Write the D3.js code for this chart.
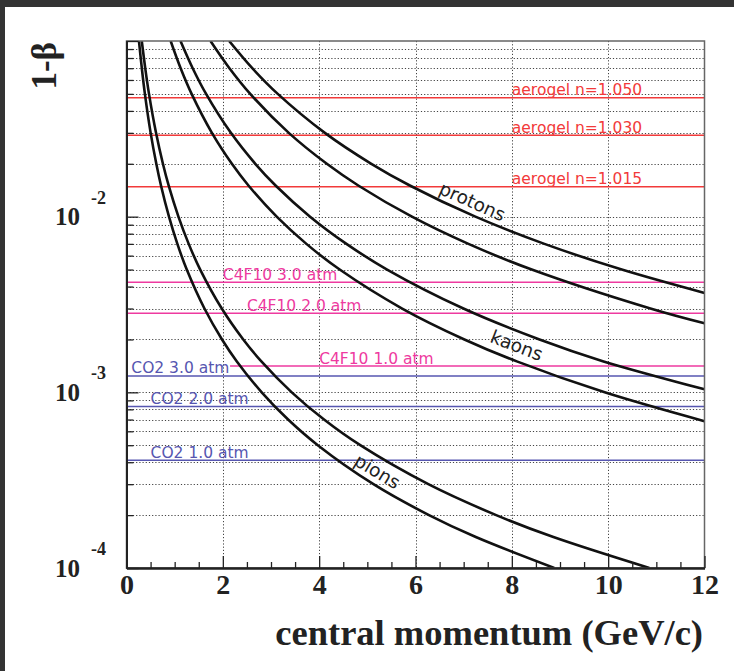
<!DOCTYPE html>
<html>
<head>
<meta charset="utf-8">
<script src="https://cdn.jsdelivr.net/npm/d3@7"></script>
<style>
  body { margin: 0; background: #fff; }
  svg { display: block; }
</style>
</head>
<body>
<script>
// 1-beta versus momentum: two curves per particle
var pionsA = [[0.259, 0.1], [0.318, 0.07], [0.382, 0.05], [0.501, 0.03], [0.619, 0.02],
              [0.717, 0.015], [0.882, 0.01], [1.056, 0.007], [1.251, 0.005], [1.618, 0.003],
              [1.983, 0.002], [2.291, 0.0015], [2.807, 0.001], [3.355, 0.0007], [3.971, 0.0005],
              [5.127, 0.0003], [6.280, 0.0002], [7.252, 0.00015], [8.881, 0.0001]];
var pionsB = [[0.317, 0.1], [0.389, 0.07], [0.467, 0.05], [0.613, 0.03], [0.756, 0.02],
              [0.876, 0.015], [1.078, 0.01], [1.291, 0.007], [1.530, 0.005], [1.978, 0.003],
              [2.424, 0.002], [2.800, 0.0015], [3.431, 0.001], [4.101, 0.0007], [4.853, 0.0005],
              [6.266, 0.0003], [7.675, 0.0002], [8.863, 0.00015], [10.855, 0.0001]];
var kaonsA = [[0.917, 0.1], [1.124, 0.07], [1.352, 0.05], [1.773, 0.03], [2.188, 0.02],
              [2.536, 0.015], [3.118, 0.01], [3.735, 0.007], [4.426, 0.005], [5.723, 0.003],
              [7.015, 0.002], [8.103, 0.0015], [9.928, 0.001], [12, 0.000685]];
var kaonsB = [[1.121, 0.1], [1.374, 0.07], [1.652, 0.05], [2.167, 0.03], [2.674, 0.02],
              [3.100, 0.015], [3.811, 0.01], [4.566, 0.007], [5.410, 0.005], [6.995, 0.003],
              [8.574, 0.002], [9.904, 0.0015], [12, 0.00104]];
var protonsA = [[1.744, 0.1], [2.137, 0.07], [2.569, 0.05], [3.369, 0.03], [4.159, 0.02],
                [4.820, 0.015], [5.926, 0.01], [7.099, 0.007], [8.413, 0.005], [10.877, 0.003],
                [12, 0.00247]];
var protonsB = [[2.131, 0.1], [2.611, 0.07], [3.140, 0.05], [4.118, 0.03], [5.083, 0.02],
                [5.892, 0.015], [7.243, 0.01], [8.677, 0.007], [10.282, 0.005], [12, 0.00368]];

// particle labels: [text, momentum, 1-beta, angle]
var particleLabels = [['protons', 7.18, 0.0122, 24],
                      ['kaons', 8.10, 0.00185, 21],
                      ['pions', 5.21, 0.000355, 31]];

// radiator thresholds
var radiatorNames = ['aerogel n=1.050', 'aerogel n=1.030', 'aerogel n=1.015',
                     'C4F10 3.0 atm', 'C4F10 2.0 atm', 'C4F10 1.0 atm',
                     'CO2 3.0 atm', 'CO2 2.0 atm', 'CO2 1.0 atm'];
var radiatorGroup = ['aerogel', 'aerogel', 'aerogel', 'c4f10', 'c4f10', 'c4f10', 'co2', 'co2', 'co2'];
var thresholds = [0.0476, 0.0291, 0.0148, 0.00423, 0.00282, 0.00141, 0.00124, 0.00083, 0.00041];
var lineFrom = [0, 0, 0, 0, 0, 2.15, 0, 0, 0];
var labelFrom = [8.0, 8.0, 8.0, 2.0, 2.5, 4.0, 0.1, 0.5, 0.5];

var xMajor = [0, 2, 4, 6, 8, 10, 12];
var yDecades = [1e-4, 1e-3, 1e-2, 1e-1];
var yLabels = [[1e-4, '-4'], [1e-3, '-3'], [1e-2, '-2']];

var colors = { 'aerogel': '#f23a3a', 'c4f10': '#ee3aa0', 'co2': '#5656b0' };

var width = 734, height = 671;
var plotLeft = 126.5, plotRight = 704.5, plotTop = 41, plotBottom = 568;

var svg = d3.select('body').append('svg')
    .attr('width', width)
    .attr('height', height);

svg.append('rect').attr('width', width).attr('height', height).attr('fill', '#fff');
// dark edges of the screenshot
svg.append('rect').attr('width', width).attr('height', 7).attr('fill', '#333');
svg.append('rect').attr('width', 5).attr('height', height).attr('fill', '#333');

var x = d3.scaleLinear().domain([0, 12]).range([plotLeft, plotRight]);
var y = d3.scaleLog().domain([1e-4, 1e-1]).range([plotBottom, plotTop]);

var yMinor = [];
[1e-4, 1e-3, 1e-2].forEach(function (d) {
    for (var k = 2; k <= 9; k++) yMinor.push(d * k);
});
var xMinor = d3.range(0.5, 12, 0.5).filter(function (d) { return d % 2 !== 0; });

// grid
var grid = svg.append('g')
    .attr('stroke', '#444')
    .attr('stroke-width', 1)
    .attr('stroke-dasharray', '1.2,2');
grid.selectAll('line.h')
    .data(yMinor.concat([1e-3, 1e-2]))
  .enter().append('line')
    .attr('x1', plotLeft).attr('x2', plotRight)
    .attr('y1', function (d) { return Math.round(y(d)) + 0.5; })
    .attr('y2', function (d) { return Math.round(y(d)) + 0.5; });
grid.selectAll('line.v')
    .data([2, 4, 6, 8, 10])
  .enter().append('line')
    .attr('y1', plotTop).attr('y2', plotBottom)
    .attr('x1', function (d) { return Math.round(x(d)) + 0.5; })
    .attr('x2', function (d) { return Math.round(x(d)) + 0.5; });

// radiator lines
svg.selectAll('line.rad')
    .data(thresholds)
  .enter().append('line')
    .attr('class', 'rad')
    .attr('x1', function (d, i) { return x(lineFrom[i]); })
    .attr('x2', plotRight)
    .attr('y1', function (d) { return y(d); })
    .attr('y2', function (d) { return y(d); })
    .attr('stroke', function (d, i) { return colors[radiatorGroup[i]]; })
    .attr('stroke-width', 1.5);

svg.selectAll('text.rad')
    .data(radiatorNames)
  .enter().append('text')
    .attr('class', 'rad')
    .attr('x', function (d, i) { return x(labelFrom[i]); })
    .attr('y', function (d, i) { return y(thresholds[i]) - 2.5; })
    .attr('fill', function (d, i) { return colors[radiatorGroup[i]]; })
    .attr('font-family', 'DejaVu Sans, sans-serif')
    .attr('font-size', 15.5)
    .text(function (d) { return d; });

// curves
svg.append('clipPath').attr('id', 'plot')
  .append('rect')
    .attr('x', plotLeft).attr('y', plotTop)
    .attr('width', plotRight - plotLeft).attr('height', plotBottom - plotTop);

var line = d3.line()
    .x(function (d) { return x(d[0]); })
    .y(function (d) { return y(d[1]); })
    .curve(d3.curveCatmullRom.alpha(0.5));

svg.append('g')
    .attr('clip-path', 'url(#plot)')
  .selectAll('path')
    .data([pionsA, pionsB, kaonsA, kaonsB, protonsA, protonsB])
  .enter().append('path')
    .attr('d', line)
    .attr('fill', 'none')
    .attr('stroke', '#111')
    .attr('stroke-width', 2.6);

svg.selectAll('text.particle')
    .data(particleLabels)
  .enter().append('text')
    .attr('class', 'particle')
    .attr('transform', function (d) {
        return 'translate(' + x(d[1]) + ',' + y(d[2]) + ') rotate(' + d[3] + ')';
    })
    .attr('text-anchor', 'middle')
    .attr('dy', '0.35em')
    .attr('font-family', 'DejaVu Sans, sans-serif')
    .attr('font-size', 18.5)
    .attr('fill', '#222')
    .text(function (d) { return d[0]; });

// frame
svg.append('rect')
    .attr('x', plotLeft).attr('y', plotTop)
    .attr('width', plotRight - plotLeft).attr('height', plotBottom - plotTop)
    .attr('fill', 'none')
    .attr('stroke', '#666')
    .attr('stroke-width', 1.5);

// axes
var xAxis = svg.append('g')
    .attr('transform', 'translate(0,' + plotBottom + ')')
    .call(d3.axisBottom(x).tickValues(xMajor).tickSizeInner(-12).tickSizeOuter(0)
          .tickPadding(6).tickFormat(d3.format('d')));
svg.append('g')
    .attr('transform', 'translate(0,' + plotBottom + ')')
    .call(d3.axisBottom(x).tickValues(xMinor).tickSizeInner(-6).tickSizeOuter(0)
          .tickFormat(''));
xAxis.selectAll('text')
    .attr('font-family', 'Liberation Serif, Times New Roman, serif')
    .attr('font-weight', 'bold')
    .attr('font-size', 28)
    .attr('fill', '#222');

svg.append('g')
    .attr('transform', 'translate(' + plotLeft + ',0)')
    .call(d3.axisLeft(y).tickValues(yDecades).tickSizeInner(-12).tickSizeOuter(0)
          .tickFormat(''));
svg.append('g')
    .attr('transform', 'translate(' + plotLeft + ',0)')
    .call(d3.axisLeft(y).tickValues(yMinor).tickSizeInner(-7).tickSizeOuter(0)
          .tickFormat(''));

svg.selectAll('.domain').attr('stroke', '#222').attr('stroke-width', 2);
svg.selectAll('.tick line').attr('stroke', '#222').attr('stroke-width', 1.3);

var yl = svg.selectAll('g.ylab')
    .data(yLabels)
  .enter().append('g')
    .attr('class', 'ylab')
    .attr('font-family', 'Liberation Serif, Times New Roman, serif')
    .attr('font-weight', 'bold')
    .attr('fill', '#222');
yl.append('text')
    .attr('x', 80)
    .attr('y', function (d) { return y(d[0]) + 8.5; })
    .attr('text-anchor', 'end')
    .attr('font-size', 25)
    .text('10');
yl.append('text')
    .attr('x', 91)
    .attr('y', function (d) { return y(d[0]) - 13; })
    .attr('font-size', 18)
    .text(function (d) { return d[1]; });

// axis titles
svg.append('text')
    .attr('x', 703)
    .attr('y', 645)
    .attr('text-anchor', 'end')
    .attr('font-family', 'Liberation Serif, Times New Roman, serif')
    .attr('font-weight', 'bold')
    .attr('font-size', 36.5)
    .attr('fill', '#222')
    .text('central momentum (GeV/c)');

svg.append('text')
    .attr('transform', 'translate(56,42) rotate(-90)')
    .attr('text-anchor', 'end')
    .attr('font-family', 'Liberation Serif, Times New Roman, serif')
    .attr('font-weight', 'bold')
    .attr('font-size', 35)
    .attr('fill', '#222')
    .text('1-β');
</script>
</body>
</html>
